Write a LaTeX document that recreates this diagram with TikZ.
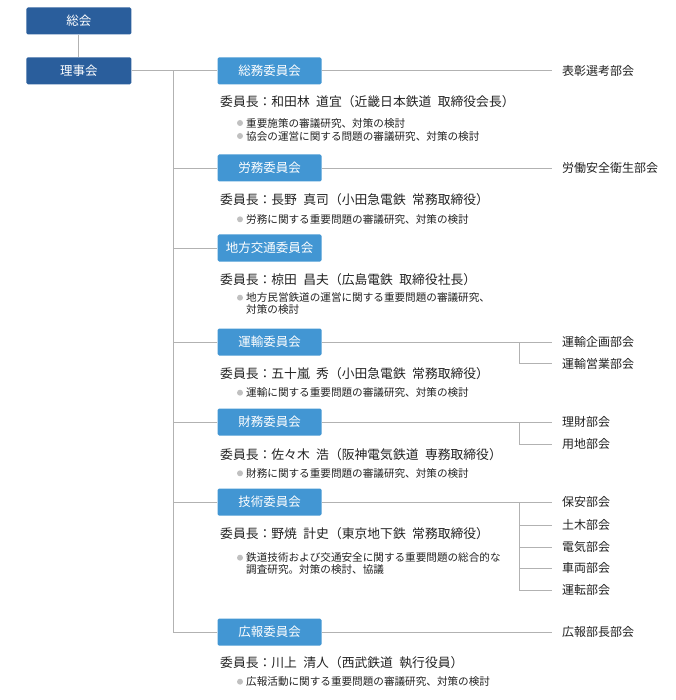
\documentclass[tikz,border=0pt]{standalone}
\usepackage{fontspec}
\setmainfont{Noto Sans CJK JP}
\usetikzlibrary{calc}

\definecolor{topblue}{RGB}{42,94,156}
\definecolor{comblue}{RGB}{66,150,211}
\definecolor{linegray}{RGB}{178,178,178}
\definecolor{dotgray}{RGB}{192,192,192}
\definecolor{textgray}{RGB}{34,34,34}
\newcommand{\jsp}{\hspace{0.5em}}

\begin{document}
\begin{tikzpicture}[x=1pt,y=-1pt]
    \tikzstyle{top}=[rectangle,rounded corners=1.5pt,fill=topblue,text=white,minimum width=105pt,minimum height=27pt,inner sep=0pt,font=\fontsize{12.5}{14}\selectfont]
    \tikzstyle{com}=[top,fill=comblue,minimum width=104pt]
    \tikzstyle{sub}=[anchor=west,inner xsep=10pt,inner ysep=0pt,text=textgray,font=\fontsize{12}{14}\selectfont]
    \tikzstyle{chair}=[anchor=west,inner sep=0pt,text=textgray,font=\fontsize{12.8}{14}\selectfont]
    \tikzstyle{item}=[anchor=west,inner sep=0pt,align=left,text=textgray,font=\fontsize{10.6}{12}\selectfont]
    \tikzstyle{dot}=[circle,fill=dotgray,inner sep=0pt,minimum size=6pt]
    \tikzstyle{link}=[draw=linegray,line width=0.8pt]

    \useasboundingbox (0,0) rectangle (675,700);

    % general meeting and board
    \node (soukai)[top] at (78.8,21) {総会};
    \node (rijikai)[top] at (78.8,70.8) {理事会};

    % committees
    \node (c1)[com] at (269.5,70.8) {総務委員会};
    \node (c2)[com] at (269.5,168) {労務委員会};
    \node (c3)[com] at (269.5,248) {地方交通委員会};
    \node (c4)[com] at (269.5,342) {運輸委員会};
    \node (c5)[com] at (269.5,422) {財務委員会};
    \node (c6)[com] at (269.5,502) {技術委員会};
    \node (c7)[com] at (269.5,632) {広報委員会};

    % sub-committees
    \node (s1)[sub] at (552,70.8) {表彰選考部会};
    \node (s2)[sub] at (552,168) {労働安全衛生部会};
    \node (s4a)[sub] at (552,342) {運輸企画部会};
    \node (s4b)[sub] at (552,363.5) {運輸営業部会};
    \node (s5a)[sub] at (552,422) {理財部会};
    \node (s5b)[sub] at (552,444) {用地部会};
    \node (s6a)[sub] at (552,502) {保安部会};
    \node (s6b)[sub] at (552,525) {土木部会};
    \node (s6c)[sub] at (552,547) {電気部会};
    \node (s6d)[sub] at (552,568) {車両部会};
    \node (s6e)[sub] at (552,590) {運転部会};
    \node (s7)[sub] at (552,632) {広報部長部会};

    % chairs and duties
    \node (h1)[chair] at (220,101.7) {委員長：和田林\jsp 道宜（近畿日本鉄道\jsp 取締役会長）};
    \node (d1a)[dot] at (240,123) {};
    \node (i1a)[item] at (246,123) {重要施策の審議研究、対策の検討};
    \node (d1b)[dot] at (240,136) {};
    \node (i1b)[item] at (246,136) {協会の運営に関する問題の審議研究、対策の検討};

    \node (h2)[chair] at (220,200) {委員長：長野\jsp 真司（小田急電鉄\jsp 常務取締役）};
    \node (d2)[dot] at (240,219.3) {};
    \node (i2)[item] at (246,219.3) {労務に関する重要問題の審議研究、対策の検討};

    \node (h3)[chair] at (220,279.3) {委員長：椋田\jsp 昌夫（広島電鉄\jsp 取締役社長）};
    \node (d3)[dot] at (240,297.7) {};
    \node (i3)[item] at (246,303.7) {地方民営鉄道の運営に関する重要問題の審議研究、\\対策の検討};

    \node (h4)[chair] at (220,373.3) {委員長：五十嵐\jsp 秀（小田急電鉄\jsp 常務取締役）};
    \node (d4)[dot] at (240,392.7) {};
    \node (i4)[item] at (246,392.7) {運輸に関する重要問題の審議研究、対策の検討};

    \node (h5)[chair] at (220,454.3) {委員長：佐々木\jsp 浩（阪神電気鉄道\jsp 専務取締役）};
    \node (d5)[dot] at (240,473.3) {};
    \node (i5)[item] at (246,473.3) {財務に関する重要問題の審議研究、対策の検討};

    \node (h6)[chair] at (220,533.3) {委員長：野焼\jsp 計史（東京地下鉄\jsp 常務取締役）};
    \node (d6)[dot] at (240,557.7) {};
    \node (i6)[item] at (246,563.5) {鉄道技術および交通安全に関する重要問題の総合的な\\調査研究。対策の検討、協議};

    \node (h7)[chair] at (220,662.7) {委員長：川上\jsp 清人（西武鉄道\jsp 執行役員）};
    \node (d7)[dot] at (240,681.7) {};
    \node (i7)[item] at (246,681.7) {広報活動に関する重要問題の審議研究、対策の検討};

    % trunk and branches
    \coordinate (j1) at (173,70.8);
    \coordinate (j7) at (173,632);
    \coordinate (k4) at (519,342);
    \coordinate (k5) at (519,422);
    \coordinate (k6) at (519,502);

    \draw[link] (soukai) edge (rijikai);
    \draw[link] (rijikai.east) -- (c1.west);
    \draw[link] (j1) -- (j7);
    \foreach \c in {c2,c3,c4,c5,c6,c7}
        \draw[link] (\c.west) -- (\c.west -| j1);

    \draw[link] (c1.east) -- (s1.west);
    \draw[link] (c2.east) -- (s2.west);
    \draw[link] (c4.east) -- (s4a.west);
    \draw[link] (k4) |- (s4b.west);
    \draw[link] (c5.east) -- (s5a.west);
    \draw[link] (k5) |- (s5b.west);
    \draw[link] (c6.east) -- (s6a.west);
    \draw[link] (k6) |- (s6e.west);
    \foreach \s in {s6b,s6c,s6d}
        \draw[link] (\s.west -| k6) -- (\s.west);
    \draw[link] (c7.east) -- (s7.west);
\end{tikzpicture}
\end{document}
